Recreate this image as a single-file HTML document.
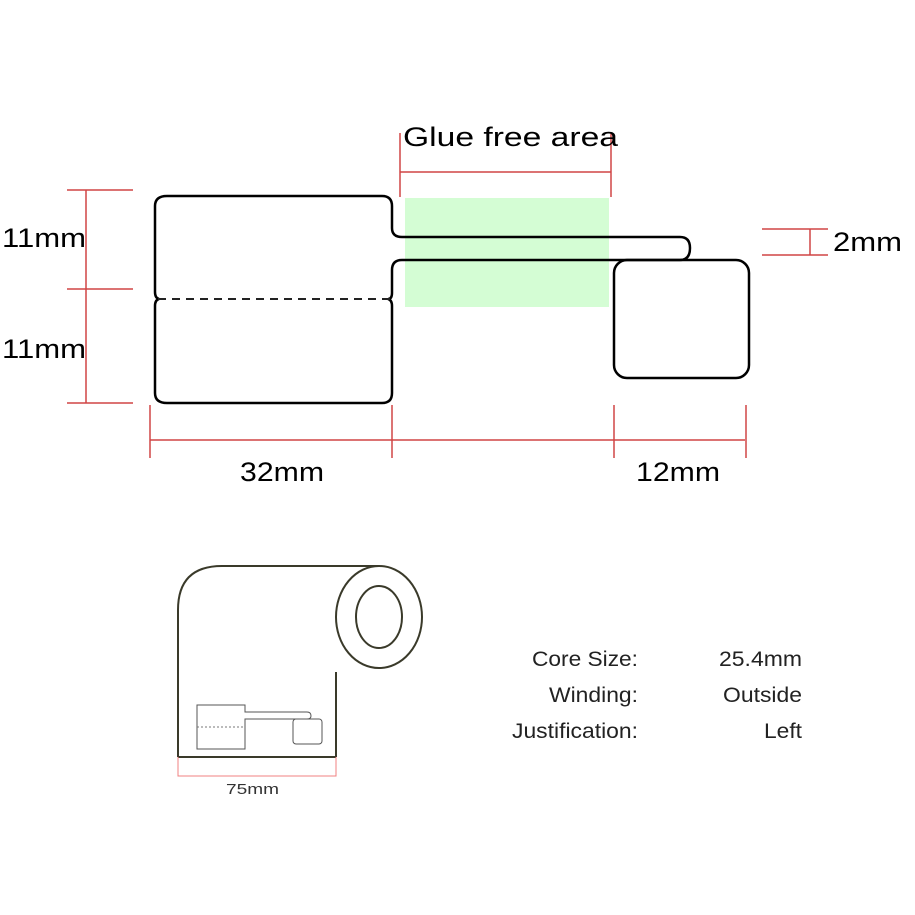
<!DOCTYPE html>
<html><head><style>body{margin:0;background:#fff}svg{display:block}text{font-family:"Liberation Sans",sans-serif}</style></head><body>
<svg width="915" height="915" viewBox="0 0 915 915" xmlns="http://www.w3.org/2000/svg">
<rect x="405" y="198" width="204" height="109" fill="#d4fdd4"/>
<g fill="none" stroke="#000" stroke-width="2.5">
<path d="M167 196 H382 Q392 196 392 206 V228 Q392 237 402 237 H680 Q690 237 690 248 Q690 260 680 260 H402 Q392 260 392 270 V293 Q392 299 388 299 Q392 300 392 306 V393 Q392 403 382 403 H167 Q155 403 155 393 V306 Q155 300 159 299 Q155 298 155 292 V206 Q155 196 167 196 Z"/>
<rect x="614" y="260" width="135" height="118" rx="13"/>
</g>
<line x1="158" y1="299" x2="390" y2="299" stroke="#222" stroke-width="2" stroke-dasharray="8,6"/>
<g stroke="#d04545" stroke-width="1.5">
<line x1="86" y1="190" x2="86" y2="403"/>
<line x1="67" y1="190" x2="133" y2="190"/><line x1="67" y1="289" x2="133" y2="289"/><line x1="67" y1="403" x2="133" y2="403"/>
<line x1="400" y1="172" x2="611" y2="172"/><line x1="400" y1="133" x2="400" y2="197"/><line x1="611" y1="133" x2="611" y2="197"/>
<line x1="150" y1="440" x2="745" y2="440"/>
<line x1="150" y1="405" x2="150" y2="458"/><line x1="392" y1="405" x2="392" y2="458"/><line x1="614" y1="405" x2="614" y2="458"/><line x1="746" y1="405" x2="746" y2="458"/>
<line x1="810" y1="229" x2="810" y2="255"/><line x1="762" y1="229" x2="828" y2="229"/><line x1="762" y1="255" x2="828" y2="255"/>
</g>
<g font-size="27" fill="#000">
<text x="403" y="146" textLength="215" lengthAdjust="spacingAndGlyphs">Glue free area</text>
<text x="2" y="247" textLength="84" lengthAdjust="spacingAndGlyphs">11mm</text>
<text x="2" y="358" textLength="84" lengthAdjust="spacingAndGlyphs">11mm</text>
<text x="240" y="481" textLength="84" lengthAdjust="spacingAndGlyphs">32mm</text>
<text x="636" y="481" textLength="84" lengthAdjust="spacingAndGlyphs">12mm</text>
<text x="833" y="251" textLength="69" lengthAdjust="spacingAndGlyphs">2mm</text>
</g>
<g fill="none" stroke="#3a3a2a" stroke-width="2">
<path d="M178 757 V610 Q178 566 222 566 H379"/>
<line x1="336" y1="672" x2="336" y2="757"/>
<line x1="178" y1="757" x2="336" y2="757"/>
<ellipse cx="379" cy="617" rx="43" ry="51"/>
<ellipse cx="379" cy="617" rx="23" ry="31"/>
</g>
<g fill="none" stroke="#555" stroke-width="1">
<path d="M197 705 H245 V712 H307 Q311 712 311 716 Q311 719 307 719 H245 V749 H197 Z"/>
<rect x="293" y="719" width="29" height="25" rx="3"/>
</g>
<line x1="197" y1="727" x2="245" y2="727" stroke="#777" stroke-width="1" stroke-dasharray="2,2"/>
<g stroke="#f08080" stroke-width="1" fill="none"><path d="M178 757 V776 H336 V757"/></g>
<text x="226" y="794" font-size="15" fill="#333" textLength="53" lengthAdjust="spacingAndGlyphs">75mm</text>
<g font-size="21" fill="#222">
<text x="532" y="666" textLength="106" lengthAdjust="spacingAndGlyphs">Core Size:</text>
<text x="549" y="702" textLength="89" lengthAdjust="spacingAndGlyphs">Winding:</text>
<text x="512" y="738" textLength="126" lengthAdjust="spacingAndGlyphs">Justification:</text>
<text x="719" y="666" textLength="83" lengthAdjust="spacingAndGlyphs">25.4mm</text>
<text x="723" y="702" textLength="79" lengthAdjust="spacingAndGlyphs">Outside</text>
<text x="764" y="738" textLength="38" lengthAdjust="spacingAndGlyphs">Left</text>
</g>
</svg>
</body></html>
